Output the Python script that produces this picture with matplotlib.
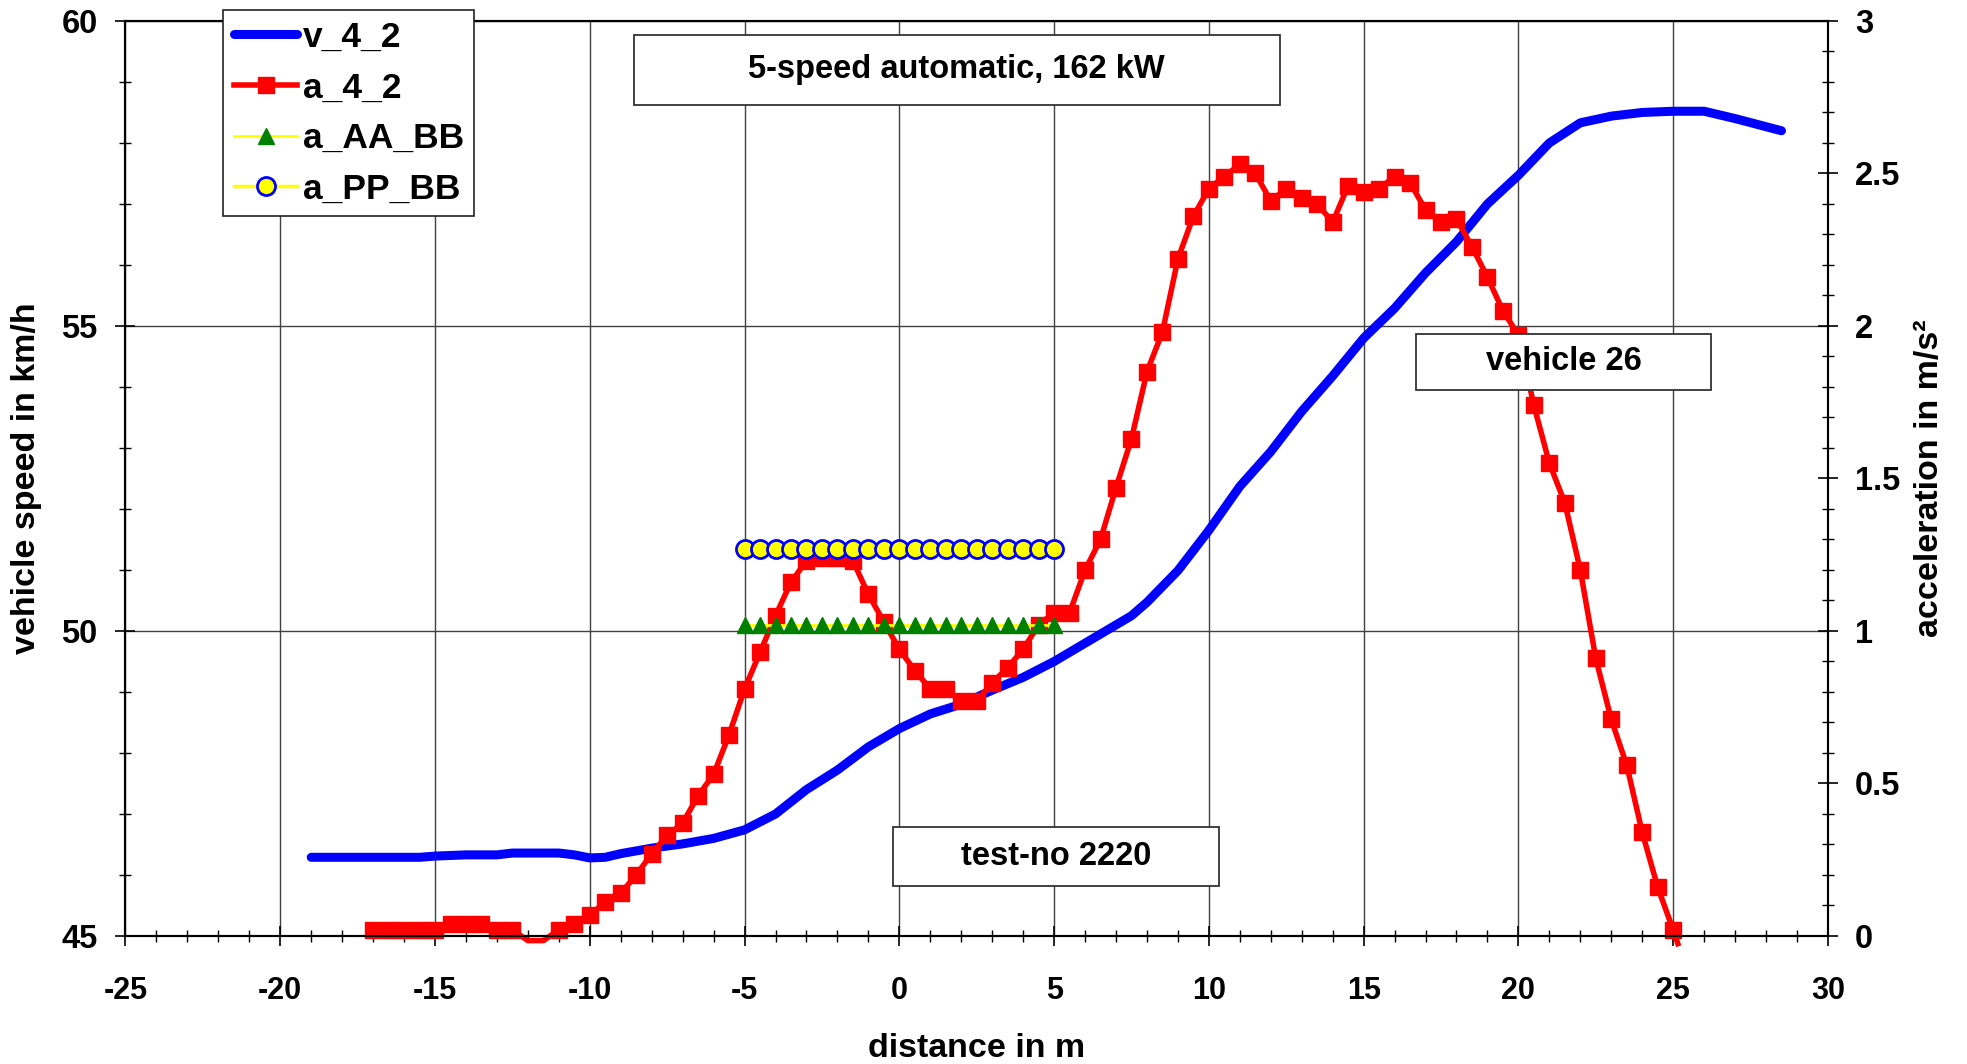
import numpy as np
import matplotlib.pyplot as plt
from matplotlib.ticker import MultipleLocator
from matplotlib.patches import Rectangle

plt.rcParams['font.family'] = ['Liberation Sans', 'DejaVu Sans']
plt.rcParams['font.weight'] = 'bold'
plt.rcParams['axes.unicode_minus'] = False

# --- vehicle speed v_4_2 (km/h) ---
v_x = [-19, -18, -17, -16, -15.5, -15, -14, -13, -12.5, -12, -11, -10.5, -10, -9.5, -9,
       -8, -7, -6, -5, -4, -3, -2, -1, 0, 1, 2, 3, 4, 5, 6, 7, 7.5, 8, 9, 10, 11, 12,
       13, 14, 15, 16, 17, 18, 19, 20, 21, 22, 23, 24, 25, 26, 27, 28.5]
v_42 = [46.29, 46.29, 46.29, 46.29, 46.29, 46.31, 46.33, 46.33, 46.36, 46.36, 46.36, 46.33,
        46.28, 46.29, 46.35, 46.44, 46.51, 46.6, 46.74, 47.0, 47.4, 47.72, 48.1, 48.4,
        48.64, 48.8, 49.03, 49.24, 49.5, 49.8, 50.1, 50.25, 50.47, 50.99, 51.65, 52.37,
        52.94, 53.6, 54.18, 54.8, 55.29, 55.87, 56.38, 57.0, 57.47, 58.0, 58.33, 58.44,
        58.5, 58.52, 58.52, 58.4, 58.2]

# --- acceleration a_4_2 (m/s²), 0.5 m steps ---
a_x = list(np.arange(-17, 25.01, 0.5)) + [25.15]
a_42 = [0.02, 0.02, 0.02, 0.02, 0.02, 0.04, 0.04, 0.04, 0.02, 0.02, -0.015, -0.015,
        0.02, 0.04, 0.07, 0.11, 0.14, 0.2, 0.27, 0.33, 0.37, 0.46, 0.53, 0.66,
        0.81, 0.93, 1.05, 1.16, 1.23, 1.24, 1.24, 1.23, 1.12, 1.03, 0.94, 0.87,
        0.81, 0.81, 0.77, 0.77, 0.83, 0.88, 0.94, 1.02, 1.06, 1.06, 1.2, 1.3,
        1.47, 1.63, 1.85, 1.98, 2.22, 2.36, 2.45, 2.49, 2.53, 2.5, 2.41, 2.45,
        2.42, 2.4, 2.34, 2.46, 2.44, 2.45, 2.49, 2.47, 2.38, 2.34, 2.35, 2.26,
        2.16, 2.05, 1.97, 1.74, 1.55, 1.42, 1.2, 0.91, 0.71, 0.56, 0.34, 0.16,
        0.02, -0.025]
hidden = [-12, -11.5, 25.15]   # points drawn without marker
a_marks = [i for i, x in enumerate(a_x) if x not in hidden]

# --- threshold lines ---
bb_x = list(np.arange(-5, 5.01, 0.5))
a_AA_BB = [1.02] * len(bb_x)
a_PP_BB = [1.27] * len(bb_x)

fig = plt.figure(figsize=(19.67, 10.64), dpi=100)
ax = fig.add_axes([0.0638, 0.1203, 0.8655, 0.86])
ax2 = ax.twinx()

ax.plot(v_x, v_42, color='#0000ff', lw=6.5, solid_capstyle='round', label='v_4_2')
ax2.plot(a_x, a_42, color='#ff0000', lw=4, marker='s', ms=12, markevery=a_marks,
         clip_on=False, label='a_4_2')
ax2.plot(bb_x, a_AA_BB, color='#ffff00', lw=2, marker='^', ms=12, mfc='#008000',
         mec='#008000', label='a_AA_BB')
ax2.plot(bb_x, a_PP_BB, color='#ffff00', lw=2.5, marker='o', ms=13, mfc='#ffff00',
         mec='#0000ff', mew=2, label='a_PP_BB')

ax.set_xlim(-25, 30)
ax.set_ylim(45, 60)
ax2.set_ylim(0, 3)
ax.xaxis.set_major_locator(MultipleLocator(5))
ax.xaxis.set_minor_locator(MultipleLocator(1))
ax.yaxis.set_major_locator(MultipleLocator(5))
ax.yaxis.set_minor_locator(MultipleLocator(1))
ax2.yaxis.set_minor_locator(MultipleLocator(0.1))
ax2.set_yticks([0, 0.5, 1, 1.5, 2, 2.5, 3])
ax2.set_yticklabels(['0', '0.5', '1', '1.5', '2', '2.5', '3'])

ax.grid(True, which='major', color='#404040', lw=1)
for a in (ax, ax2):
    a.tick_params(which='major', direction='inout', length=14, width=1.2, labelsize=23.5)
    a.tick_params(which='minor', direction='inout', length=9, width=1)
    for s in a.spines.values():
        s.set_linewidth(1.5)
ax.tick_params(axis='x', labelsize=22, pad=22)
ax.tick_params(axis='y', pad=13)
ax2.tick_params(axis='y', pad=12.5)

ax.set_xlabel('distance in m', fontsize=24.5, fontweight='bold', labelpad=19)
ax.set_ylabel('vehicle speed in km/h', fontsize=24.5, fontweight='bold', labelpad=14)
ax2.set_ylabel('acceleration in m/s²', fontsize=24.5, fontweight='bold', labelpad=10)

# --- annotation boxes (axes fractions) ---
boxes = [
    ('5-speed automatic, 162 kW', 0.2985, 0.908, 0.3795, 0.077, 23.5),
    ('vehicle 26', 0.7583, 0.5967, 0.1732, 0.0617, 23.5),
    ('test-no 2220', 0.451, 0.0549, 0.1916, 0.0644, 23.5),
]
for txt, x0, y0, w, h, fs in boxes:
    ax2.add_patch(Rectangle((x0, y0), w, h, transform=ax2.transAxes, fc='white',
                            ec='#333333', lw=1.3, zorder=9))
    ax2.text(x0 + w / 2, y0 + h / 2, txt, transform=ax2.transAxes, fontsize=fs,
             ha='center', va='center', zorder=10)

h1, l1 = ax.get_legend_handles_labels()
h2, l2 = ax2.get_legend_handles_labels()
leg = fig.legend(h1 + h2, l1 + l2, loc='upper left', bbox_to_anchor=(223 / 1967, 1 - 10 / 1064),
                 fontsize=25.5, frameon=True, fancybox=False, framealpha=1, edgecolor='#222222',
                 handlelength=1.8, handletextpad=0.15, labelspacing=0.5, borderpad=0.3,
                 borderaxespad=0)
leg.get_frame().set_linewidth(1.2)

fig.savefig('out.png', dpi=100)
